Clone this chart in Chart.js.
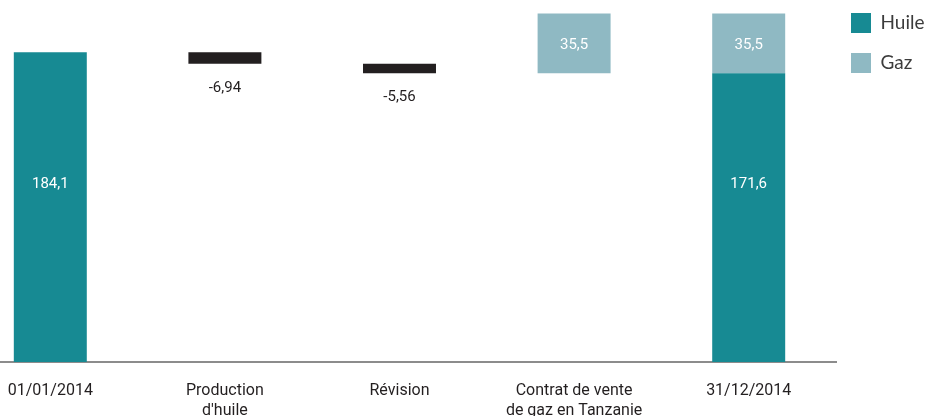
<!DOCTYPE html>
<html>
<head>
<meta charset="utf-8">
<script src="https://cdn.jsdelivr.net/npm/chart.js@4/dist/chart.umd.min.js"></script>
<style>
  html, body { margin: 0; padding: 0; background: #ffffff; }
  #page { position: relative; width: 927px; height: 416px; overflow: hidden; }
  #wrap { position: absolute; left: -37px; top: -2px; width: 964px; height: 418px; }
</style>
</head>
<body>
<div id="page"><div id="wrap"><canvas id="c"></canvas></div></div>
<script>
// ---- Data ----
const categories = ['01/01/2014', ['Production', "d'huile"], 'Révision', ['Contrat de vente', 'de gaz en Tanzanie'], '31/12/2014'];
const seriesNames = ['Huile', 'Gaz'];
const huile = [184.1, null, null, null, 171.6];
const gaz = [null, null, null, 35.5, 35.5];
const variations = [null, -6.94, -5.56, null, null];

// ---- Build floating bars (waterfall) from the data ----
const huileBars = [], gazBars = [], varBars = [];
let running = 0;
categories.forEach((c, i) => {
  huileBars[i] = null; gazBars[i] = null; varBars[i] = null;
  if (huile[i] != null) {
    huileBars[i] = [0, huile[i]];
    running = huile[i];
    if (gaz[i] != null) gazBars[i] = [huile[i], huile[i] + gaz[i]];
  } else if (variations[i] != null) {
    const next = running + variations[i];
    varBars[i] = [Math.min(next, running), Math.max(next, running)];
    running = next;
  } else if (gaz[i] != null) {
    gazBars[i] = [running, running + gaz[i]];
  }
});

const fmt = v => String(v).replace('.', ',');
const COL_HUILE = '#178a93';
const COL_GAZ = '#8fb9c3';
const COL_VAR = '#231f20';
const LABEL_FONT = '"Liberation Sans Narrow", Roboto, sans-serif';
const OIL_LABEL_LEVEL = 105.8; // height (in data units) where the oil totals are written

const barLabels = {
  id: 'barLabels',
  afterDatasetsDraw(chart) {
    const ctx = chart.ctx;
    const yScale = chart.scales.y;
    ctx.save();
    ctx.textAlign = 'center';
    ctx.textBaseline = 'middle';
    ctx.font = '15px ' + LABEL_FONT;
    chart.data.datasets.forEach((ds, di) => {
      const meta = chart.getDatasetMeta(di);
      meta.data.forEach((bar, i) => {
        if (ds.data[i] == null) return;
        if (ds.kind === 'huile') {
          ctx.fillStyle = '#ffffff';
          ctx.fillText(fmt(huile[i]), bar.x, yScale.getPixelForValue(OIL_LABEL_LEVEL));
        } else if (ds.kind === 'gaz') {
          ctx.fillStyle = '#ffffff';
          ctx.fillText(fmt(gaz[i]), bar.x, (bar.y + bar.base) / 2 + 2);
        } else if (ds.kind === 'var') {
          ctx.fillStyle = COL_VAR;
          ctx.fillText(fmt(variations[i]), bar.x, Math.max(bar.y, bar.base) + 24);
        }
      });
    });
    ctx.restore();
  }
};

const common = { grouped: false, categoryPercentage: 1, barPercentage: 0.418, borderWidth: 0 };

new Chart(document.getElementById('c'), {
  type: 'bar',
  data: {
    labels: categories,
    datasets: [
      Object.assign({ label: seriesNames[0], kind: 'huile', data: huileBars, backgroundColor: COL_HUILE }, common),
      Object.assign({ label: seriesNames[1], kind: 'gaz', data: gazBars, backgroundColor: COL_GAZ }, common),
      Object.assign({ label: 'Variation', kind: 'var', data: varBars, backgroundColor: COL_VAR }, common)
    ]
  },
  options: {
    responsive: true,
    maintainAspectRatio: false,
    devicePixelRatio: 1,
    animation: false,
    layout: { padding: 0 },
    scales: {
      x: {
        z: 1,
        grid: { display: false },
        border: { display: true, color: '#8c8c8c', width: 2 },
        ticks: {
          color: '#231f20',
          padding: 11,
          maxRotation: 0,
          autoSkip: false,
          font: { family: LABEL_FONT, size: 16, lineHeight: '20px' }
        },
        afterFit(scale) { scale.height = 54; }
      },
      y: {
        display: false,
        min: 0,
        max: 216.3
      }
    },
    plugins: {
      tooltip: { enabled: false },
      legend: {
        position: 'right',
        align: 'start',
        maxWidth: 91,
        labels: {
          boxWidth: 20,
          boxHeight: 20,
          padding: 15,
          color: '#3c3c3c',
          font: { family: 'Lato, "Open Sans", sans-serif', size: 19, lineHeight: '25px' },
          generateLabels(chart) {
            return Chart.defaults.plugins.legend.labels.generateLabels(chart)
              .filter(it => it.datasetIndex < 2)
              .map(it => Object.assign({}, it, { text: [it.text], lineWidth: 0 }));
          }
        }
      }
    }
  },
  plugins: [barLabels]
});
</script>
</body>
</html>
